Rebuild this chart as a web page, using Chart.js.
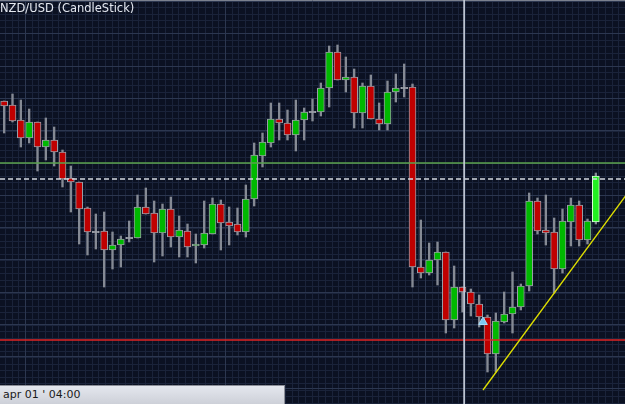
<!DOCTYPE html>
<html><head><meta charset="utf-8">
<script src="https://cdn.jsdelivr.net/npm/chart.js@4.4.1/dist/chart.umd.min.js"></script>
<style>
html,body{margin:0;padding:0;background:#0b1122;overflow:hidden}
#wrap{position:relative;width:625px;height:404px}
canvas{display:block}
#title{position:absolute;left:0;top:0px;color:#e4e8f0;font:11.5px "DejaVu Sans",sans-serif;line-height:16px;white-space:nowrap}
#stamp{position:absolute;left:0;top:385px;width:285px;height:19px;background:linear-gradient(#e4e7ee,#cdd0d8);border-top:1px solid #8c8f98;border-right:1px solid #8c8f98;color:#1a1a1a;font:11px "DejaVu Sans",sans-serif;line-height:18px;padding-left:3px;box-sizing:border-box;white-space:nowrap}
</style></head>
<body><div id="wrap"><canvas id="c" width="625" height="404"></canvas><div id="title">NZD/USD (CandleStick)</div><div id="stamp">apr 01 ' 04:00</div></div>
<script>
// Candle values in chart level units (larger = lower on screen)
const opens  = [101,105,120,138,122,147,140,152,178,182,208,232,231,250,245,238,238,207,213,233,209,237,231,246,245,234,204,222,224,232,199,156,143,119,123,135,120,112,112,88,52,80,77,113,86,119,124,92,88,87,267,273,260,252,320,287,292,304,317,354,322,314,307,286,201,230,232,269,222,205,240,222];
const highs  = [101,94,100,109,122,118,127,150,166,182,207,214,212,232,236,221,195,188,201,204,197,216,224,234,201,198,200,207,208,185,143,133,103,103,110,100,108,99,83,46,45,57,69,83,75,103,81,74,64,84,220,243,242,252,266,287,289,295,315,313,292,272,284,193,198,195,218,209,198,201,219,173];
const lows   = [133,122,147,143,171,160,166,187,212,244,255,249,287,269,267,242,238,214,262,256,247,257,257,263,248,234,250,245,235,237,206,167,147,140,140,151,140,121,116,107,80,92,128,128,119,130,130,102,97,287,278,275,285,333,328,312,316,327,372,372,323,333,310,291,234,245,293,273,246,246,244,224];
const closes = [106,121,138,122,147,140,152,179,182,209,232,232,250,245,239,238,207,214,233,209,237,230,247,244,233,204,223,226,232,199,155,142,119,123,135,120,112,112,88,52,80,77,113,86,119,124,92,88,88,267,273,260,252,320,287,292,304,317,354,321,314,307,286,201,231,233,269,221,205,240,221,176];
const greenLevel = [163];
const dashedLevel = [179];
const redLevel = [340];
const crosshairX = [55.2];
const trendX = [57.46, 75.0];
const trendY = [390, 191];
const markerX = [57.46];
const markerY = [322];
const majorGridY = [1,33,66,98,130,163,195,227,259,292,324,356,388];
const majorGridX = [2.5,26.5,50.5,74.5];

const N = opens.length;
const xMin = -0.5, xMax = 74.5;
const isLast = i => i === N-1;
const wickData = opens.map((o,i)=>({x:i, y:[lows[i], highs[i]]}));
const bodyData = opens.map((o,i)=>({x:i, y: o===closes[i] ? [o-0.7, o+0.7] : [o, closes[i]]}));
const bodyColors = opens.map((o,i)=> o===closes[i] ? '#a4a7ae' : (closes[i] < o ? (isLast(i) ? '#22f022' : '#00b800') : '#c00000'));
const bodyBorders = opens.map((o,i)=> isLast(i) ? '#d8ffd8' : '#9a9da6');

const bgPlugin = {
  id:'bg',
  beforeDraw(chart){
    const ctx = chart.ctx, xs = chart.scales.x, ys = chart.scales.y;
    const W = chart.width, H = chart.height;
    ctx.save();
    ctx.fillStyle = '#0b1122';
    ctx.fillRect(0,0,W,H);
    // minor grid
    ctx.strokeStyle = '#1a233a';
    ctx.lineWidth = 1;
    ctx.beginPath();
    for (let v = majorGridY[0]; v < 404; v += 6.48) {
      const y = Math.round(ys.getPixelForValue(v)) + 0.5;
      ctx.moveTo(0,y); ctx.lineTo(W,y);
    }
    for (let v = majorGridX[0] - 24; v < xMax; v += 0.8) {
      const x = Math.round(xs.getPixelForValue(v)) + 0.5;
      ctx.moveTo(x,0); ctx.lineTo(x,H);
    }
    ctx.stroke();
    // major grid
    ctx.strokeStyle = '#2c3750';
    ctx.beginPath();
    majorGridY.forEach(v=>{ const y = Math.round(ys.getPixelForValue(v)) + 0.5; ctx.moveTo(0,y); ctx.lineTo(W,y); });
    majorGridX.forEach(v=>{ const x = Math.round(xs.getPixelForValue(v)) + 0.5; ctx.moveTo(x,0); ctx.lineTo(x,H); });
    ctx.stroke();
    ctx.strokeStyle = '#7a808e';
    ctx.beginPath(); ctx.moveTo(0,0.5); ctx.lineTo(W,0.5); ctx.stroke();
    ctx.restore();
  }
};

const hLine = (lvl, color, width, dash) => ({
  type:'line', data:[{x:xMin,y:lvl},{x:xMax,y:lvl}], borderColor:color, borderWidth:width,
  borderDash:dash||[], pointRadius:0, order:0, tension:0
});

new Chart(document.getElementById('c'), {
  type:'bar',
  data:{ datasets:[
    { type:'scatter', data: markerX.map((x,i)=>({x, y:markerY[i]})), pointStyle:'triangle', pointRadius:5,
      backgroundColor:'#7cc8f2', borderColor:'#a8dcfa', borderWidth:1, order:0 },
    { type:'line', data: trendX.map((x,i)=>({x, y:trendY[i]})), borderColor:'#e0e000', borderWidth:1.3, pointRadius:0, order:0 },
    { type:'line', data: [{x:crosshairX[0], y:0},{x:crosshairX[0], y:404}], borderColor:'#c4cbd8', borderWidth:1, pointRadius:0, order:0 },
    hLine(greenLevel[0], '#5aa24c', 1.5),
    hLine(dashedLevel[0], '#d4d8e0', 1.3, [5,3]),
    hLine(redLevel[0], '#e02424', 1.3),
    { data: bodyData, backgroundColor: bodyColors, borderColor: bodyBorders, borderWidth:1, borderSkipped:false,
      barThickness:7, grouped:false, order:1 },
    { data: wickData, backgroundColor:'#858a94', borderWidth:0, barThickness:1.7, grouped:false, order:2 }
  ]},
  options:{
    responsive:false, animation:false, devicePixelRatio:1,
    layout:{padding:0, autoPadding:false},
    plugins:{legend:{display:false}, tooltip:{enabled:false}},
    scales:{
      x:{type:'linear', min:xMin, max:xMax, display:false, offset:false},
      y:{type:'linear', min:0, max:404, reverse:true, display:false}
    }
  },
  plugins:[bgPlugin]
});
</script>
</body></html>
